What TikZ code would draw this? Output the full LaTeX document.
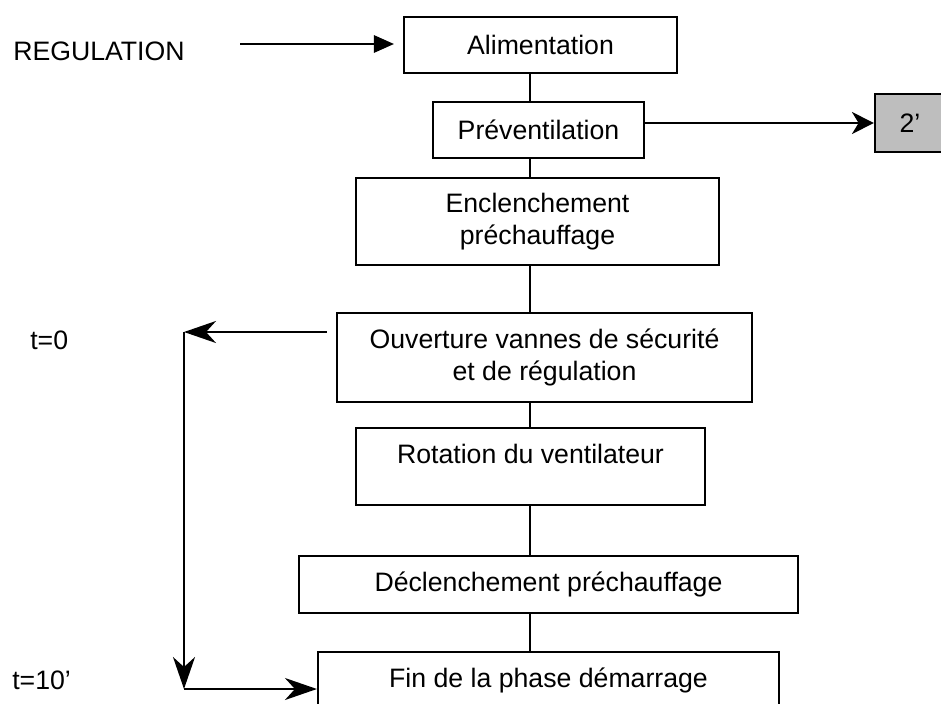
\documentclass[tikz,border=0pt]{standalone}
\usepackage{fontspec}
\setmainfont{Liberation Sans}
\usetikzlibrary{arrows.meta}
\definecolor{boxgray}{RGB}{190,190,190}
\begin{document}
\begin{tikzpicture}[x=0.75pt,y=-0.75pt,
  txt/.style={font=\fontsize{20}{23.5}\selectfont, inner sep=0pt},
  box/.style={txt, draw, line width=1.6pt, align=center},
  link/.style={line width=1.1pt},
  arrL/.style={line width=1.5pt, -{Stealth[length=24pt,width=16.5pt,inset=7.5pt]}},
  arrM/.style={line width=1.5pt, -{Stealth[length=16.5pt,width=16.5pt,inset=5pt]}},
  arrS/.style={line width=1.5pt, -{Triangle[length=15pt,width=13pt]}}
]
\useasboundingbox (0,0) rectangle (941,703);
\clip (0,0) rectangle (941,703);

% boxes
\node[box, minimum width=204.75pt, minimum height=42pt] (ali) at (540.5,45) {Alimentation};
\node[box, minimum width=158.25pt, minimum height=42pt] (pre) at (538.5,130) {Préventilation};
\node[box, minimum width=272.25pt, minimum height=65.25pt] (enc) at (537.5,221.5) {Enclenchement\\préchauffage};
\node[box, minimum width=311.25pt, minimum height=66.75pt] (ouv) at (544.5,357.5) {Ouverture vannes de sécurité\\et de régulation};
\node[box, minimum width=261.75pt, minimum height=57.75pt, text height=14pt, text depth=18pt] (rot) at (530.5,466.5) {Rotation du ventilateur};
\node[box, minimum width=374.25pt, minimum height=42.75pt] (dec) at (548.5,584.5) {Déclenchement préchauffage};
\node[box, minimum width=345.75pt, minimum height=42pt] (fin) at (548.5,680) {Fin de la phase démarrage};
\node[box, fill=boxgray, minimum width=52.5pt, minimum height=43.5pt] (two) at (910,123) {2’};

% side labels
\node[txt, anchor=west] (reg) at (13,51) {REGULATION};
\node[txt, anchor=west] (t0) at (30,340) {t=0};
\node[txt, anchor=west] (t10) at (12,680) {t=10’};

% spine connectors
\coordinate (sp) at (530,0);
\draw[link] (ali.south -| sp) -- (pre.north -| sp);
\draw[link] (pre.south -| sp) -- (enc.north -| sp);
\draw[link] (enc.south -| sp) -- (ouv.north -| sp);
\draw[link] (ouv.south -| sp) -- (rot.north -| sp);
\draw[link] (rot.south -| sp) -- (dec.north -| sp);
\draw[link] (dec.south -| sp) -- (fin.north -| sp);

% arrows
\coordinate (regA) at (240,44);
\draw[arrS, shorten >=6.75pt] (regA) -- (ali.west |- regA);
\draw[arrM] (pre.east |- two.west) -- (two.west);
\coordinate (c0) at (184,332);
\coordinate (c1) at (184,689);
\draw[arrL, shorten <=6.75pt] (ouv.west |- c0) -- (c0);
\draw[arrL] (c0) -- (c1);
\draw[arrL] (c1) -- (fin.west |- c1);
\end{tikzpicture}
\end{document}
